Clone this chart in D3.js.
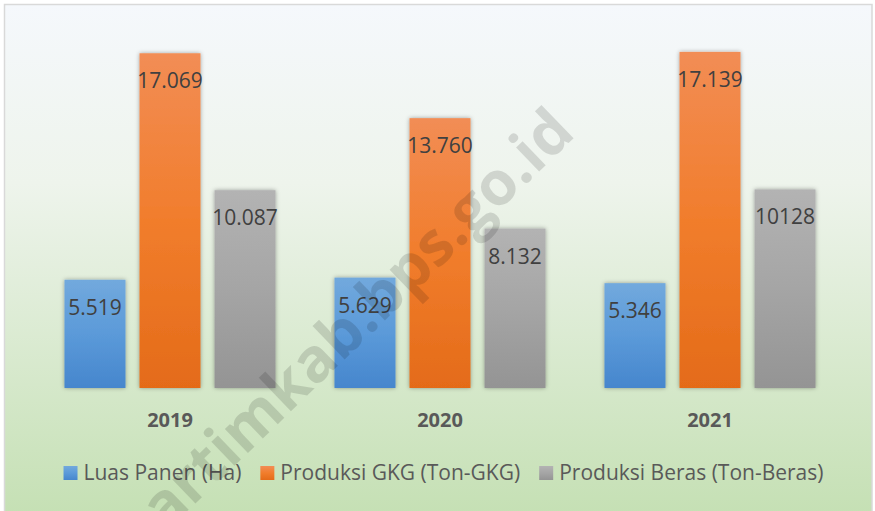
<!DOCTYPE html>
<html>
<head>
<meta charset="utf-8">
<script src="https://cdn.jsdelivr.net/npm/d3@7.9.0/dist/d3.min.js"></script>
<style>
  body { margin: 0; background: #fff; }
  svg { display: block; font-family: 'Open Sans', sans-serif; }
</style>
</head>
<body>
<div id="chart"></div>
<script>
// data
const years = ['2019', '2020', '2021'];
const seriesNames = ['Luas Panen (Ha)', 'Produksi GKG (Ton-GKG)', 'Produksi Beras (Ton-Beras)'];
const luasPanen = [5519, 5629, 5346];
const produksiGKG = [17069, 13760, 17139];
const produksiBeras = [10087, 8132, 10128];
// labels as printed (the last one has no separator)
const luasLabels = ['5.519', '5.629', '5.346'];
const gkgLabels = ['17.069', '13.760', '17.139'];
const berasLabels = ['10.087', '8.132', '10128'];
const yDomain = [0, 18000];

const seriesValues = [luasPanen, produksiGKG, produksiBeras];
const seriesLabels = [luasLabels, gkgLabels, berasLabels];
// gradient stops: light top, base, dark bottom
const seriesColors = [
  ['#72a9dd', '#5b9ad9', '#4686cd'],
  ['#f28d55', '#f17d2c', '#e46b19'],
  ['#b3b3b3', '#a5a5a5', '#949494'],
];

const rows = [];
years.forEach((year, i) => {
  seriesNames.forEach((name, s) => {
    rows.push({ year, s, name, value: seriesValues[s][i], label: seriesLabels[s][i] });
  });
});

const width = 875;
const height = 511;
const plot = { left: 35, right: 845, top: 35, bottom: 388 };

const svg = d3.select('#chart')
  .append('svg')
  .attr('width', width)
  .attr('height', height);

const defs = svg.append('defs');

// chart area background
const bg = defs.append('linearGradient')
  .attr('id', 'bg')
  .attr('x1', 0).attr('y1', 0).attr('x2', 0).attr('y2', 1);
bg.append('stop').attr('offset', '0%').attr('stop-color', '#f5f8fc');
bg.append('stop').attr('offset', '35%').attr('stop-color', '#eef4ec');
bg.append('stop').attr('offset', '100%').attr('stop-color', '#c5e0b4');

seriesColors.forEach((c, s) => {
  const g = defs.append('linearGradient')
    .attr('id', 'grad' + s)
    .attr('x1', 0).attr('y1', 0).attr('x2', 0).attr('y2', 1);
  g.append('stop').attr('offset', '0%').attr('stop-color', c[0]);
  g.append('stop').attr('offset', '50%').attr('stop-color', c[1]);
  g.append('stop').attr('offset', '100%').attr('stop-color', c[2]);
});

defs.append('filter')
  .attr('id', 'shadow')
  .attr('x', '-30%').attr('y', '-10%').attr('width', '160%').attr('height', '120%')
  .append('feDropShadow')
  .attr('dx', 0).attr('dy', 0)
  .attr('stdDeviation', 2)
  .attr('flood-color', '#000')
  .attr('flood-opacity', 0.35);

svg.append('rect')
  .attr('x', 4.5).attr('y', 4.5)
  .attr('width', 867.5).attr('height', 510)
  .attr('fill', 'url(#bg)')
  .attr('stroke', '#d9d9d9')
  .attr('stroke-width', 1.5);

// scales
const x0 = d3.scaleBand()
  .domain(years)
  .range([plot.left, plot.right]);

const x1 = d3.scaleBand()
  .domain(d3.range(seriesNames.length))
  .range([0, x0.bandwidth()])
  .paddingInner(0.1867)
  .paddingOuter(0.393);

const y = d3.scaleLinear()
  .domain(yDomain)
  .range([plot.bottom, plot.top]);

// baseline
svg.append('line')
  .attr('x1', plot.left).attr('x2', plot.right)
  .attr('y1', y(0) + 0.5).attr('y2', y(0) + 0.5)
  .attr('stroke', '#d9d9d9')
  .attr('stroke-width', 2)
  .attr('filter', 'url(#shadow)');

// bars
svg.append('g')
  .attr('class', 'bars')
  .selectAll('rect')
  .data(rows)
  .join('rect')
  .attr('x', (d) => x0(d.year) + x1(d.s))
  .attr('y', (d) => y(d.value))
  .attr('width', x1.bandwidth())
  .attr('height', (d) => y(0) - y(d.value))
  .attr('fill', (d) => 'url(#grad' + d.s + ')')
  .attr('filter', 'url(#shadow)');

// value labels, inside end
svg.append('g')
  .attr('class', 'labels')
  .selectAll('text')
  .data(rows)
  .join('text')
  .attr('x', (d) => x0(d.year) + x1(d.s) + x1.bandwidth() / 2)
  .attr('y', (d) => y(d.value) + 35)
  .attr('text-anchor', 'middle')
  .attr('font-size', 21)
  .attr('fill', '#404040')
  .text((d) => d.label);

// category axis
const xAxis = svg.append('g')
  .attr('transform', `translate(0, ${y(0)})`)
  .call(d3.axisBottom(x0).tickSize(0).tickPadding(0));
xAxis.select('.domain').remove();
xAxis.selectAll('text')
  .attr('dy', null)
  .attr('y', 39)
  .attr('font-family', "'Open Sans', sans-serif")
  .attr('font-size', 20)
  .attr('font-weight', 'bold')
  .attr('fill', '#595959');

// legend, laid out from text widths and centred
const legend = svg.append('g').attr('class', 'legend');
const items = legend.selectAll('g')
  .data(seriesNames)
  .join('g');
items.append('rect')
  .attr('y', 466)
  .attr('width', 14).attr('height', 14)
  .attr('fill', (d, i) => 'url(#grad' + i + ')');
items.append('text')
  .attr('x', 20)
  .attr('y', 480)
  .attr('font-size', 21)
  .attr('fill', '#595959')
  .text((d) => d);

const gap = 19;
let cursor = 0;
items.each(function () {
  const w = d3.select(this).select('text').node().getComputedTextLength();
  d3.select(this).attr('transform', `translate(${cursor}, 0)`);
  cursor += 20 + w + gap;
});
const legendWidth = cursor - gap;
legend.attr('transform', `translate(${443.5 - legendWidth / 2}, 0)`);

// watermark
svg.append('text')
  .attr('transform', 'translate(577, 135) rotate(-44)')
  .attr('text-anchor', 'end')
  .attr('font-size', 61)
  .attr('font-weight', 'bold')
  .attr('fill', '#000')
  .attr('fill-opacity', 0.13)
  .text('bartimkab.bps.go.id');
</script>
</body>
</html>
